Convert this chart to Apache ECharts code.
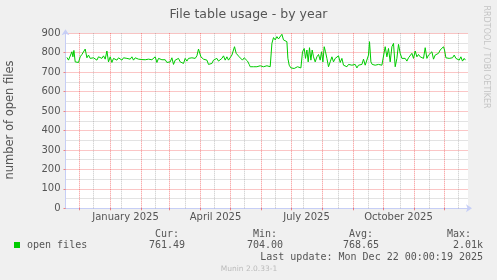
<!DOCTYPE html>
<html><head><meta charset="utf-8">
<script src="https://cdn.jsdelivr.net/npm/echarts@6/dist/echarts.min.js"></script>
<style>html,body{margin:0;padding:0;background:#f0f0f0}#c{width:497px;height:280px}</style>
</head><body><div id="c"></div>
<script>
const chartTitle = "File table usage - by year";
const yAxisTitle = "number of open files";
const seriesName = "open files";
const sideText = "RRDTOOL / TOBI OETIKER";
const rangeEnd = Date.UTC(2025, 11, 22, 0, 0, 19);
const rangeDays = 400;
const dayOffsets = [1.4,3.0,4.7,6.4,7.4,8.4,9.7,11.4,13.0,14.7,16.4,18.0,19.7,21.4,23.0,24.7,26.4,28.0,29.7,31.4,33.0,34.7,36.4,38.0,39.7,41.4,43.0,44.7,46.4,48.0,49.7,51.4,53.0,54.7,56.4,58.0,59.7,61.4,63.0,64.7,66.4,68.0,69.7,71.4,73.0,74.7,76.4,78.0,79.7,81.4,83.0,84.7,86.4,88.0,89.7,91.4,93.0,94.7,96.4,98.0,99.7,101.4,103.0,104.7,106.4,108.0,109.7,111.4,113.0,114.7,116.4,118.0,119.7,121.4,123.0,124.7,126.4,128.0,129.7,131.4,133.0,134.0,135.4,136.7,138.0,139.7,141.4,143.0,144.7,146.4,148.0,149.7,151.4,153.0,154.7,156.4,158.0,159.7,161.4,163.0,164.7,166.4,168.0,169.0,170.7,172.0,173.7,175.4,177.0,178.7,180.4,182.0,183.7,
184.7,186.4,188.0,189.7,191.4,193.0,194.7,196.4,198.0,199.7,201.4,203.0,204.7,206.4,208.0,209.7,211.4,213.0,214.7,216.4,218.0,219.7,221.4,222.4,223.7,225.4,227.0,228.7,230.4,232.0,233.7,235.4,237.0,238.7,240.0,241.4,242.7,244.0,245.4,246.7,248.0,249.7,251.4,253.0,254.7,256.0,257.4,258.7,260.0,261.4,263.0,264.7,266.4,268.0,269.7,271.4,273.0,274.7,276.4,278.0,279.7,281.4,283.0,284.7,286.4,288.0,289.7,291.4,293.0,294.7,296.4,298.0,299.7,301.4,303.0,304.0,305.4,306.7,308.0,309.7,311.4,313.0,314.7,316.4,318.0,319.7,321.4,323.0,324.7,326.4,328.0,329.7,331.4,333.0,334.7,336.4,338.0,339.7,341.4,343.0,344.7,346.4,348.0,349.7,351.4,353.0,354.7,356.4,358.0,359.7,361.4,363.0,364.7,366.4,368.0,369.7,371.4,373.0,374.7,376.4,378.0,379.0,380.4,382.0,383.7,385.4,387.0,388.7,390.4,392.0,393.7,395.4,397.0,398.7,399.9];
const openFiles = [776,762,771,805,779,812,753,762,750,779,791,791,819,774,788,771,779,774,767,762,779,774,771,784,767,809,753,779,750,771,779,762,774,771,762,774,784,771,779,767,779,762,774,771,767,771,765,771,764,771,767,771,764,774,779,750,771,767,764,771,764,750,760,753,774,740,762,753,771,753,757,745,771,757,771,779,774,779,771,784,819,828,779,771,767,757,762,740,750,745,762,753,771,757,762,771,784,762,779,762,771,788,797,831,797,788,779,771,762,774,767,757,740,
728,719,728,722,728,722,733,740,728,736,733,740,728,848,878,866,883,871,878,895,866,874,857,771,736,722,728,719,722,728,733,722,805,822,771,814,753,826,762,814,779,753,779,791,762,805,753,831,805,771,728,753,779,753,771,762,784,750,771,736,745,728,740,733,736,728,740,722,736,733,740,767,736,740,788,857,753,740,750,736,745,740,745,736,740,831,779,822,753,831,848,728,771,843,797,771,762,771,757,774,767,797,771,809,779,791,779,784,771,826,771,788,779,805,767,788,784,797,814,822,831,814,774,771,771,771,774,788,771,779,762,779,757,771,762];
const monthLines = ["2024-12-01","2025-01-01","2025-02-01","2025-03-01","2025-04-01","2025-05-01","2025-06-01","2025-07-01","2025-08-01","2025-09-01","2025-10-01","2025-11-01","2025-12-01"];
const minorLines = ["2024-12-15","2025-01-12","2025-02-15","2025-03-17","2025-04-15","2025-05-15","2025-06-15","2025-07-13","2025-08-17","2025-09-16","2025-10-18","2025-11-16","2025-12-15"];
const tickLabels = ["January 2025","April 2025","July 2025","October 2025"];
const tickLabelDates = ["2025-01-16","2025-04-16","2025-07-16","2025-10-16"];
const statHeads = ["Cur:","Min:","Avg:","Max:"];
const statValues = ["761.49","704.00","768.65","2.01k"];
const lastUpdate = "Last update: Mon Dec 22 00:00:19 2025";
const footer = "Munin 2.0.33-1";

const DAY = 86400000;
const rangeStart = rangeEnd - rangeDays * DAY;
const ts = s => Date.parse(s + "T00:00:00Z");
const seriesData = dayOffsets.map((d, i) => [rangeStart + d * DAY, openFiles[i]]);
const labelTs = tickLabelDates.map(ts);

const chart = echarts.init(document.getElementById('c'), null, {renderer: 'canvas'});
const axisCol = '#c6cef6';
const mono = '"DejaVu Sans Mono", monospace';
const sans = '"DejaVu Sans", sans-serif';
const txt = '#555';
const redGrid = 'rgba(235,0,0,0.45)';
const greyGrid = 'rgba(120,120,120,0.42)';

const statX = [155, 253, 349, 447];
const valX = [149, 247, 343, 483];
const graphics = [
  {type:'rect', shape:{x:14, y:242, width:6, height:6}, style:{fill:'#00cc00'}},
  {type:'text', x:27, y:245.5, style:{text:seriesName, font:'10px '+mono, fill:txt, verticalAlign:'middle'}},
  {type:'text', x:486, y:57, rotation:-Math.PI/2, style:{text:sideText, font:'8px '+sans, fill:'#c4c4c4', align:'center', verticalAlign:'middle'}},
  {type:'text', x:10, y:120, rotation:Math.PI/2, style:{text:yAxisTitle, font:'11.5px '+sans, fill:txt, align:'center', verticalAlign:'middle'}},
  {type:'text', x:483, y:257.5, style:{text:lastUpdate, font:'10px '+mono, fill:txt, align:'right', verticalAlign:'middle'}},
  {type:'text', x:249, y:269, style:{text:footer, font:'7.5px '+sans, fill:'#bbbbbb', align:'center', verticalAlign:'middle'}}
];
statHeads.forEach((h, i) => graphics.push({type:'text', x:statX[i], y:234, style:{text:h, font:'10px '+mono, fill:txt, verticalAlign:'middle'}}));
statValues.forEach((v, i) => graphics.push({type:'text', x:valX[i], y:245.5, style:{text:v, font:'10px '+mono, fill:txt, align: i===3?'right':'left', verticalAlign:'middle'}}));

const mkLines = (arr, color) => arr.map(d => ({xAxis: ts(d), lineStyle:{color:color, type:'dotted', width:1}}));

chart.setOption({
  backgroundColor:'#f0f0f0',
  animation:false,
  title:{text:chartTitle, left:'center', top:3, textStyle:{fontFamily:sans, fontSize:12.5, fontWeight:'normal', color:'#555'}},
  grid:{left:65.5, top:33.3, width:402.5, height:175, show:true, backgroundColor:'#ffffff', borderWidth:0},
  xAxis:{type:'value', min:rangeStart, max:rangeStart + 402.5*DAY, scale:true,
    axisLine:{show:true, lineStyle:{color:axisCol, width:1}, symbol:['none','arrow'], symbolSize:[6,6], symbolOffset:[0,4]},
    axisTick:{show:true, customValues: monthLines.map(ts), length:2, lineStyle:{color:redGrid}},
    axisLabel:{customValues: labelTs, formatter: v => tickLabels[labelTs.indexOf(v)] || '', fontFamily:sans, fontSize:10, color:txt, margin:4},
    splitLine:{show:false}},
  yAxis:{type:'value', min:0, max:900, interval:100,
    axisLine:{show:true, lineStyle:{color:axisCol, width:1}, symbol:['none','arrow'], symbolSize:[6,6], symbolOffset:[0,4]},
    axisTick:{show:true, length:2, lineStyle:{color:redGrid}},
    axisLabel:{fontFamily:sans, fontSize:10, color:txt, margin:5},
    splitLine:{show:true, lineStyle:{color:redGrid, type:'dotted'}},
    minorTick:{show:false, splitNumber:2},
    minorSplitLine:{show:true, lineStyle:{color:greyGrid, type:'dotted'}}},
  graphic: graphics,
  series:[{
    name:seriesName, type:'line', data:seriesData, showSymbol:false, symbol:'none',
    lineStyle:{color:'#00cc00', width:1}, z:5,
    markLine:{silent:true, symbol:'none', label:{show:false}, animation:false, z:1,
      data: mkLines(minorLines, greyGrid).concat(mkLines(monthLines, redGrid))}
  }]
});
</script></body></html>
